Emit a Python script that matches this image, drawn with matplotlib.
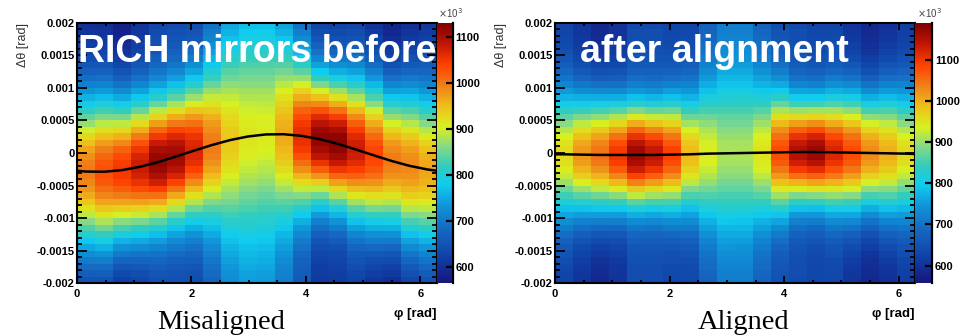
import numpy as np
import matplotlib
matplotlib.use("Agg")
import matplotlib.pyplot as plt
from matplotlib.colors import LinearSegmentedColormap
from matplotlib.ticker import MultipleLocator

# binning: 20 bins in phi over one turn, 40 bins in dtheta
phi_edges = np.linspace(0, 2 * np.pi, 21)
dth_edges = np.linspace(-0.002, 0.002, 41)
phi_c = 0.5 * (phi_edges[1:] + phi_edges[:-1])
dth_c = 0.5 * (dth_edges[1:] + dth_edges[:-1])

# misaligned mirrors: per phi column, entries (x10^3) at the peak and in the tails,
# width of the dtheta peak and fitted mean (both in 1e-4 rad)
mis_peak = [1000, 1030, 1050, 1080, 1120, 1110, 1070, 1000, 940, 915,
            910, 965, 1060, 1120, 1125, 1080, 1040, 1000, 990, 970]
mis_tail = [590, 585, 570, 600, 630, 635, 630, 660, 700, 720,
            720, 690, 650, 610, 610, 615, 585, 570, 585, 600]
mis_sigma = [8.5, 8.5, 8.0, 7.5, 7.0, 7.0, 7.5, 8.5, 10.0, 10.5,
             10.5, 9.5, 8.0, 7.0, 7.0, 7.5, 8.0, 8.0, 8.5, 8.5]
# mean at phi = 0, at the 20 column centres, and at 2pi
mis_mean = [-2.72, -2.85, -2.88, -2.63, -2.12, -1.41, -0.55, 0.35, 1.22, 1.97, 2.53,
            2.85, 2.88, 2.63, 2.12, 1.41, 0.55, -0.35, -1.22, -1.97, -2.53, -2.72]

# after alignment
ali_peak = [960, 1020, 1050, 1100, 1170, 1140, 1090, 990, 940, 910,
            910, 950, 1080, 1150, 1170, 1120, 1080, 1030, 1000, 960]
ali_tail = [620, 600, 580, 600, 640, 640, 630, 630, 670, 705,
            705, 670, 645, 640, 630, 630, 600, 580, 590, 610]
ali_sigma = [7.0, 6.5, 6.5, 6.0, 5.5, 5.5, 6.0, 6.5, 7.5, 8.0,
             8.0, 7.5, 6.5, 5.5, 5.5, 6.0, 6.5, 6.5, 7.0, 7.0]
ali_mean = [-0.2, -0.2, -0.25, -0.3, -0.3, -0.3, -0.3, -0.25, -0.2, -0.1, -0.05,
            0.0, 0.05, 0.1, 0.15, 0.15, 0.1, 0.05, 0.0, -0.05, -0.1, -0.15]

curve_phi = np.concatenate([[0.0], phi_c, [2 * np.pi]])

ytick_vals = [-0.002, -0.0015, -0.001, -0.0005, 0, 0.0005, 0.001, 0.0015, 0.002]
ytick_text = ["-0.002", "-0.0015", "-0.001", "-0.0005", "0",
              "0.0005", "0.001", "0.0015", "0.002"]
cb_ticks = [600, 700, 800, 900, 1000, 1100]

# rainbow palette, navy -> cyan -> yellow -> red -> dark red
palette = LinearSegmentedColormap.from_list("rainbow_root", [
    (0.00, "#16167e"), (0.10, "#1040a6"), (0.20, "#1566c0"), (0.30, "#0f96d8"),
    (0.38, "#10ccee"), (0.45, "#33ccbb"), (0.52, "#80d88c"), (0.60, "#d8f020"),
    (0.68, "#eebf1a"), (0.76, "#f08018"), (0.84, "#ff4000"), (0.92, "#c01505"),
    (1.00, "#800000")])

W, H = 965, 336
fig = plt.figure(figsize=(W / 100, H / 100), dpi=100)
sans = "Liberation Sans"


def box(x0, y0, x1, y1):
    return [x0 / W, 1 - y1 / H, (x1 - x0) / W, (y1 - y0) / H]


def hist2d(peak, tail, sigma, mean):
    peak = np.array(peak, float)
    tail = np.array(tail, float)
    sig = np.array(sigma) * 1e-4
    mu = np.array(mean[1:-1]) * 1e-4
    d = (dth_c[:, None] - mu[None, :]) / sig[None, :]
    return tail + (peak - tail) * np.exp(-0.5 * d ** 2)


def panel(ax_box, cb_box, peak, tail, sigma, mean, vmin, vmax, title, title_x, label, label_x):
    ax = fig.add_axes(box(*ax_box))
    z = hist2d(peak, tail, sigma, mean)
    m = ax.pcolormesh(phi_edges, dth_edges, z, cmap=palette, vmin=vmin, vmax=vmax,
                      shading="flat")
    ax.plot(curve_phi, np.array(mean) * 1e-4, color="black", lw=1.8)
    ax.set_xlim(0, 2 * np.pi)
    ax.set_ylim(-0.002, 0.002)
    ax.set_xticks([0, 2, 4, 6])
    ax.set_xticklabels(["0", "2", "4", "6"])
    ax.xaxis.set_minor_locator(MultipleLocator(0.5))
    ax.set_yticks(ytick_vals)
    ax.set_yticklabels(ytick_text)
    ax.yaxis.set_minor_locator(MultipleLocator(0.0001))
    ax.tick_params(which="both", direction="in", top=True, right=True, width=1.3)
    ax.tick_params(axis="x", which="major", length=5, pad=4)
    ax.tick_params(axis="x", which="minor", length=2.5)
    ax.tick_params(axis="y", which="major", length=7, pad=1.5)
    ax.tick_params(axis="y", which="minor", length=3.5)
    for lab in ax.get_xticklabels() + ax.get_yticklabels():
        lab.set_fontfamily(sans)
        lab.set_fontweight("bold")
        lab.set_fontsize(8)
    for s in ax.spines.values():
        s.set_linewidth(1.5)

    ax.text(title_x / W, 1 - 62 / H, title, transform=fig.transFigure, color="white",
            fontsize=27, fontweight="bold", family=sans, ha="left", va="baseline")

    cax = fig.add_axes(box(*cb_box))
    cb = fig.colorbar(m, cax=cax)
    cb.outline.set_visible(False)
    cb.set_ticks(cb_ticks)
    cb.set_ticklabels([str(t) for t in cb_ticks])
    cax.minorticks_off()
    cax.tick_params(direction="in", length=5, width=1.6, pad=2, labelsize=8)
    for lab in cax.get_yticklabels():
        lab.set_fontfamily(sans)
        lab.set_fontweight("bold")
    cax.plot([1, 1], [0, 1], transform=cax.transAxes, color="black", lw=1.6,
             clip_on=False)
    fig.text((cb_box[0] + 2) / W, 1 - 13 / H, r"$\times$10$^{3}$", fontsize=7,
             family=sans, color="#444444", ha="left", va="center")

    fig.text((ax_box[0] - 54) / W, 1 - ax_box[1] / H, "Δθ [rad]", rotation=90,
             fontsize=9, family=sans, color="#333333", ha="center", va="top")
    fig.text(ax_box[2] / W, 1 - 314 / H, "φ [rad]", fontsize=9.5, family=sans,
             fontweight="bold", ha="right", va="center")
    fig.text(label_x / W, 1 - 329 / H, label, fontsize=20.5, family="Liberation Serif",
             ha="center", va="baseline")
    return ax


panel((77, 22.7, 436.5, 283.3), (436.5, 22.7, 452.7, 283.3),
      mis_peak, mis_tail, mis_sigma, mis_mean, 565, 1132,
      "RICH mirrors before", 78, "Misaligned", 221)
panel((555, 22.7, 915, 283.3), (915, 22.7, 932, 283.3),
      ali_peak, ali_tail, ali_sigma, ali_mean, 557, 1190,
      "after alignment", 580, "Aligned", 744)

fig.savefig("out.png", dpi=100)
